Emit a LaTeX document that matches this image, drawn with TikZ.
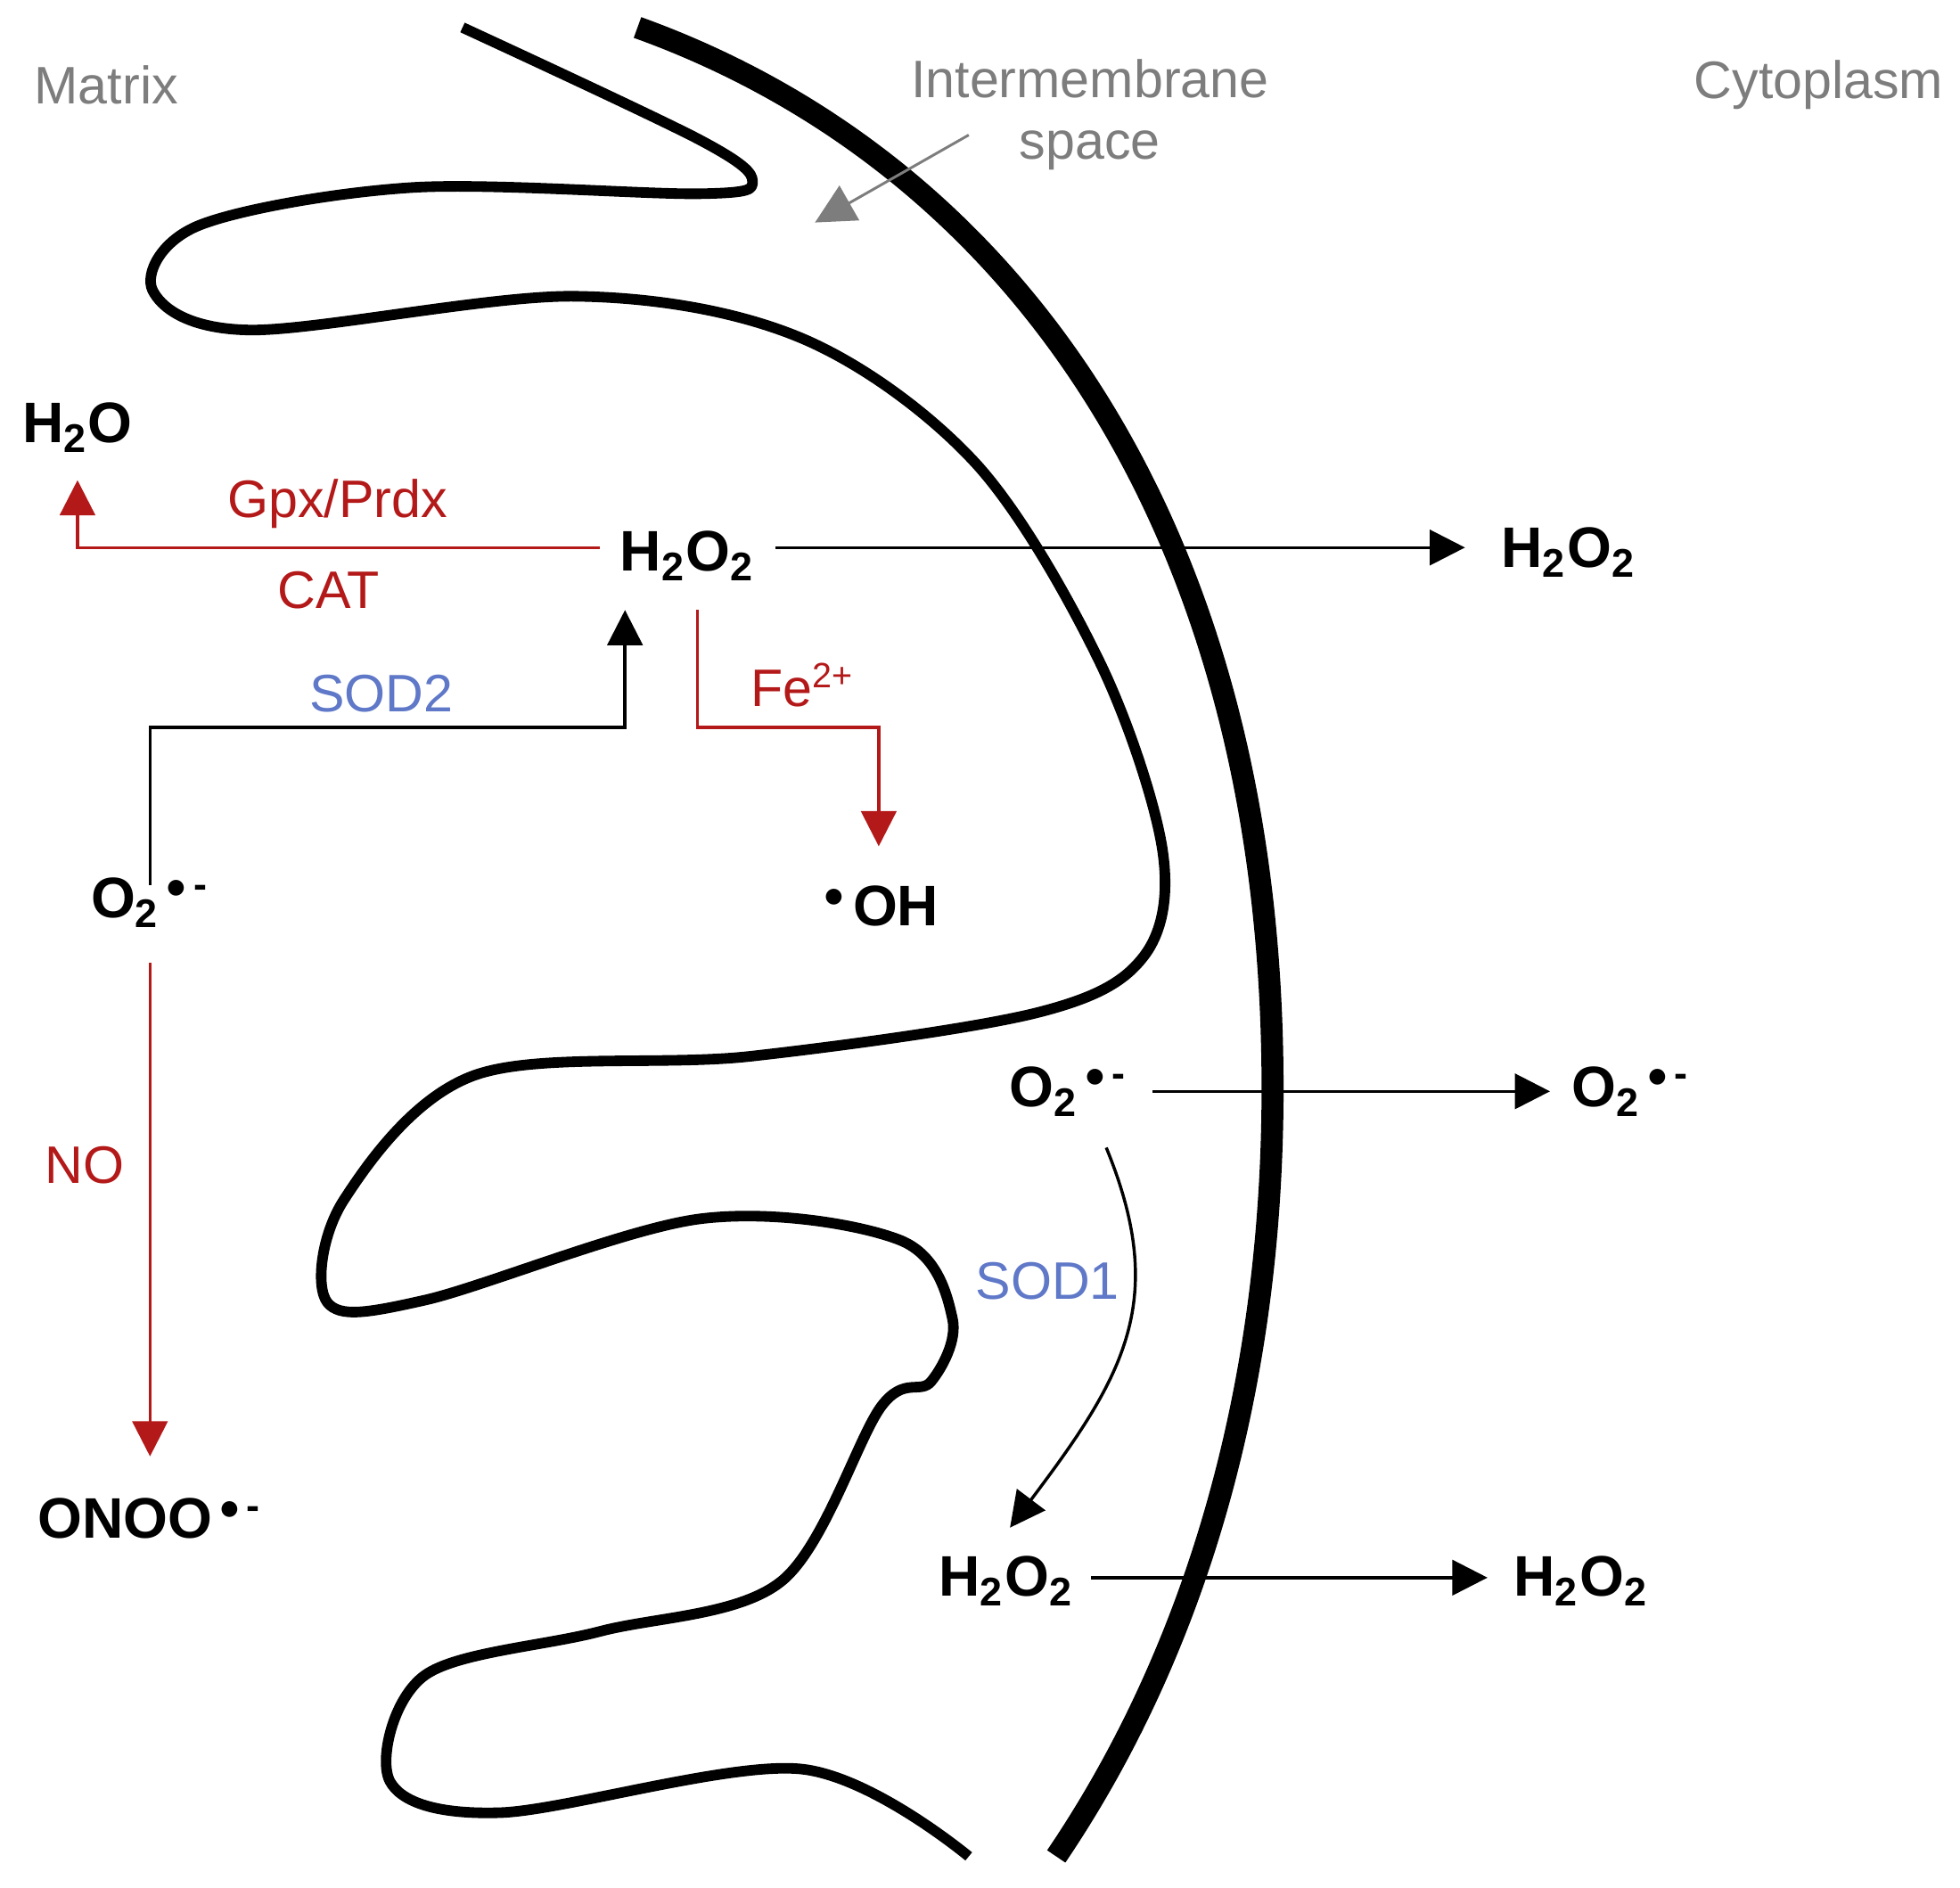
\documentclass[tikz,border=0pt]{standalone}
\usepackage{fontspec}
\setmainfont{Liberation Sans}
\usetikzlibrary{arrows.meta}
\definecolor{ros}{RGB}{180,25,25}
\definecolor{enz}{RGB}{95,120,200}
\definecolor{area}{RGB}{125,125,125}
\tikzset{
  mol/.style={font=\fontsize{13}{15}\selectfont\bfseries, inner sep=1pt},
  lab/.style={font=\fontsize{12}{14}\selectfont, inner sep=1pt},
  flow/.style={-{Triangle[length=8pt,width=8pt]}, line width=0.7pt},
  memb/.style={line width=2.4pt, line join=round}
}
\newcommand{\radsup}{\textsuperscript{\,$\bullet$\,-}}
\begin{document}
\begin{tikzpicture}[x=0.01cm,y=-0.01cm]
\useasboundingbox (0,0) rectangle (1568,1510);
% membranes
\draw[line width=5pt] (510,22) .. controls (810,130) and (1015,420) .. (1018,860)
  .. controls (1020,1120) and (950,1330) .. (845,1485);
\draw[memb] plot[smooth, tension=0.55] coordinates {(370,22) (560,112) (602,145) (560,155)
  (330,150) (160,180) (122,232) (200,264) (460,237) (640,270) (780,370) (880,530) (930,680)
  (915,765) (830,810) (600,845) (380,860) (275,960) (262,1042) (340,1040) (560,975)
  (720,992) (762,1055) (745,1105) (705,1125) (625,1265) (480,1305) (340,1340) (312,1425)
  (400,1450) (640,1415) (775,1485)};
% compartments
\node[lab, text=area] (matrix) at (85,68) {Matrix};
\node[lab, text=area, align=center] (ims) at (872,92) {Intermembrane\\space};
\node[lab, text=area] (cyto) at (1455,68) {Cytoplasm};
\coordinate (imsTip) at (652,178);
\draw[area, line width=0.6pt, -{Triangle[length=9pt,width=9pt]}] (775,108) -- (imsTip);
% species
\node[mol] (h2oM) at (62,342) {H\textsubscript{2}O};
\node[mol] (h2o2M) at (550,445) {H\textsubscript{2}O\textsubscript{2}};
\node[mol] (h2o2Out) at (1255,442) {H\textsubscript{2}O\textsubscript{2}};
\node[mol] (o2M) at (120,722) {O\textsubscript{2}\radsup};
\node[mol] (ohM) at (705,725) {\textsuperscript{$\bullet$\,}OH};
\node[mol] (onoo) at (120,1215) {ONOO\radsup};
\node[mol] (o2I) at (855,873) {O\textsubscript{2}\radsup};
\node[mol] (o2Out) at (1305,873) {O\textsubscript{2}\radsup};
\node[mol] (h2o2I) at (805,1265) {H\textsubscript{2}O\textsubscript{2}};
\node[mol] (h2o2Out2) at (1265,1265) {H\textsubscript{2}O\textsubscript{2}};
% enzymes
\node[lab, text=ros] (gpx) at (270,403) {Gpx/Prdx};
\node[lab, text=ros] (cat) at (263,472) {CAT};
\node[lab, text=enz] (sod2) at (305,555) {SOD2};
\node[lab, text=ros] (fe) at (642,548) {Fe\textsuperscript{2+}};
\node[lab, text=ros] (no) at (68,932) {NO};
\node[lab, text=enz] (sod1) at (838,1025) {SOD1};
% reactions
\draw[flow, ros] (480,438) -| ([yshift=-0.18cm]h2oM.south);
\draw[flow] (620,438) -- (1172,438);
\draw[flow] (o2M.north) ++(0,-0.1cm) |- (500,582) -- (500,488);
\draw[flow, ros] (558,488) |- (703,582) -- (703,677);
\draw[flow, ros] (120,770) -- (120,1165);
\draw[flow] (922,873) -- (1240,873);
\draw[flow] (885,918) .. controls (935,1040) and (900,1100) .. (808,1222);
\draw[flow] (873,1262) -- (1190,1262);
\end{tikzpicture}
\end{document}
